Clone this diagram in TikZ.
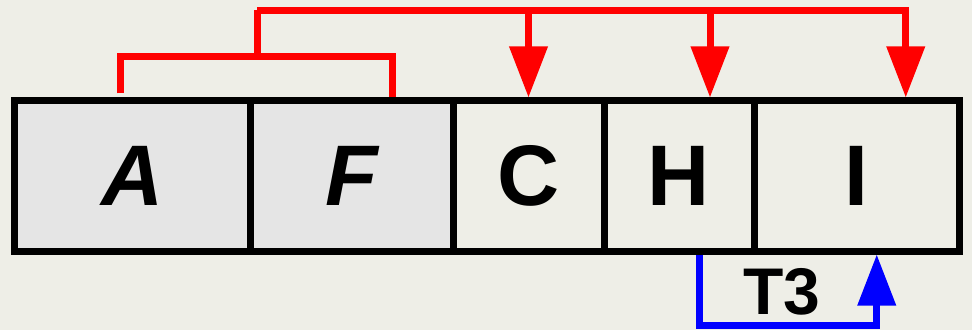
\documentclass[tikz,border=0pt]{standalone}
\usepackage{fontspec}
\setmainfont{Liberation Sans}
\usetikzlibrary{arrows.meta,positioning}
\definecolor{bgpaper}{RGB}{238,238,231}
\definecolor{slotgray}{RGB}{229,229,229}

\begin{document}
\begin{tikzpicture}[x=1pt,y=1pt,
  slot/.style={draw,line width=7pt,outer sep=0pt,inner sep=0pt,minimum height=150pt,
    font=\fontsize{86}{86}\selectfont\bfseries},
  redline/.style={red,line width=7pt},
  blueline/.style={blue,line width=7pt},
  bigtip/.style={-{Triangle[length=51pt,width=37pt]}}]
  \fill[bgpaper] (0,0) rectangle (972,330);
  \useasboundingbox (0,0) rectangle (972,330);

  \node[slot,fill=slotgray,minimum width=235.5pt] (a) at (132.25,154) {\itshape A};
  \node[slot,fill=slotgray,minimum width=203pt,right=0pt of a] (f) {\itshape F};
  \node[slot,minimum width=151pt,right=0pt of f] (c) {C};
  \node[slot,minimum width=150pt,right=0pt of c] (h) {H};
  \node[slot,minimum width=205.5pt,right=0pt of h] (i) {I};

  \coordinate (lo) at (257,273.7);
  \coordinate (hi) at (257,319.7);
  \coordinate (hx) at ([xshift=31pt]h.north);
  \draw[redline] ([xshift=-12pt,yshift=7.7pt]a.north) |- (lo) -| ([xshift=40.5pt,yshift=3.5pt]f.north);
  \draw[redline] (lo) -- (hi);
  \draw[redline,bigtip] (hi) -| ([xshift=49pt,yshift=3.5pt]i.north);
  \draw[redline,bigtip] (hi -| c.north) -- ([yshift=3.5pt]c.north);
  \draw[redline,bigtip] (hx |- hi) -- ([yshift=3.5pt]hx);

  \draw[blueline,bigtip] ([xshift=20pt,yshift=-3.5pt]h.south) -- ++(0,-71) -| ([xshift=20pt,yshift=-3.5pt]i.south);
  \node[font=\fontsize{66}{66}\selectfont\bfseries] (t3) at (782,38.5) {T3};
\end{tikzpicture}
\end{document}
